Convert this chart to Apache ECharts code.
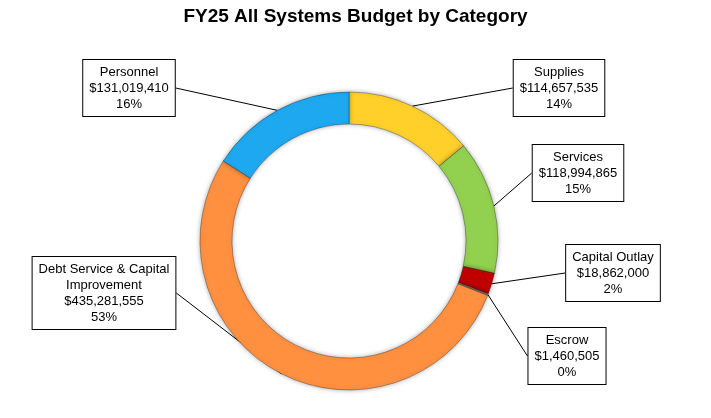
<!DOCTYPE html>
<html>
<head>
<meta charset="utf-8">
<script src="https://cdn.jsdelivr.net/npm/echarts@6/dist/echarts.min.js"></script>
<style>html,body{margin:0;background:#fff}#chart{width:711px;height:418px}</style>
</head>
<body>
<div id="chart"></div>
<script>
// data, clockwise from the top
var categories = ['Supplies', 'Services', 'Capital Outlay', 'Escrow', 'Debt Service & Capital\nImprovement', 'Personnel'];
var amounts = [114657535, 118994865, 18862000, 1460505, 435281555, 131019410];
var colors = ['#FFD02A', '#92D050', '#C00000', '#8C8C8C', '#FF9040', '#1EA8F0'];
// label box centres
var labelPos = [[559, 88], [578, 173], [613, 273], [567, 356], [104, 293], [129, 88]];

var total = amounts.reduce(function (a, b) { return a + b; }, 0);
var chart = echarts.init(document.getElementById('chart'));
chart.setOption({
    animation: false,
    title: {
        text: 'FY25 All Systems Budget by Category',
        left: 'center', top: 2,
        textStyle: { fontFamily: 'Liberation Sans', fontSize: 19, fontWeight: 'bold', color: '#000' }
    },
    series: [{
        type: 'pie',
        center: [349, 241],
        radius: [117, 149],
        startAngle: 90,
        clockwise: true,
        itemStyle: { borderColor: 'rgba(0,0,0,0.3)', borderWidth: 1, shadowBlur: 5, shadowColor: 'rgba(0,0,0,0.35)' },
        data: categories.map(function (c, i) {
            return { name: c, value: amounts[i], itemStyle: { color: colors[i] } };
        }),
        label: {
            show: true,
            formatter: function (p) {
                return p.name + '\n$' + p.value.toLocaleString('en-US') + '\n' + Math.round(p.value / total * 100) + '%';
            },
            fontFamily: 'Liberation Sans', fontSize: 13, color: '#000', lineHeight: 16,
            align: 'center',
            backgroundColor: '#fff', borderColor: '#000', borderWidth: 1,
            padding: [4, 6]
        },
        labelLine: { show: true, length: 0, length2: 0, lineStyle: { color: '#000', width: 1 } },
        labelLayout: function (p) {
            var pos = labelPos[p.dataIndex];
            return { x: pos[0], y: pos[1], align: 'center', verticalAlign: 'middle' };
        }
    }]
});
</script>
</body>
</html>
